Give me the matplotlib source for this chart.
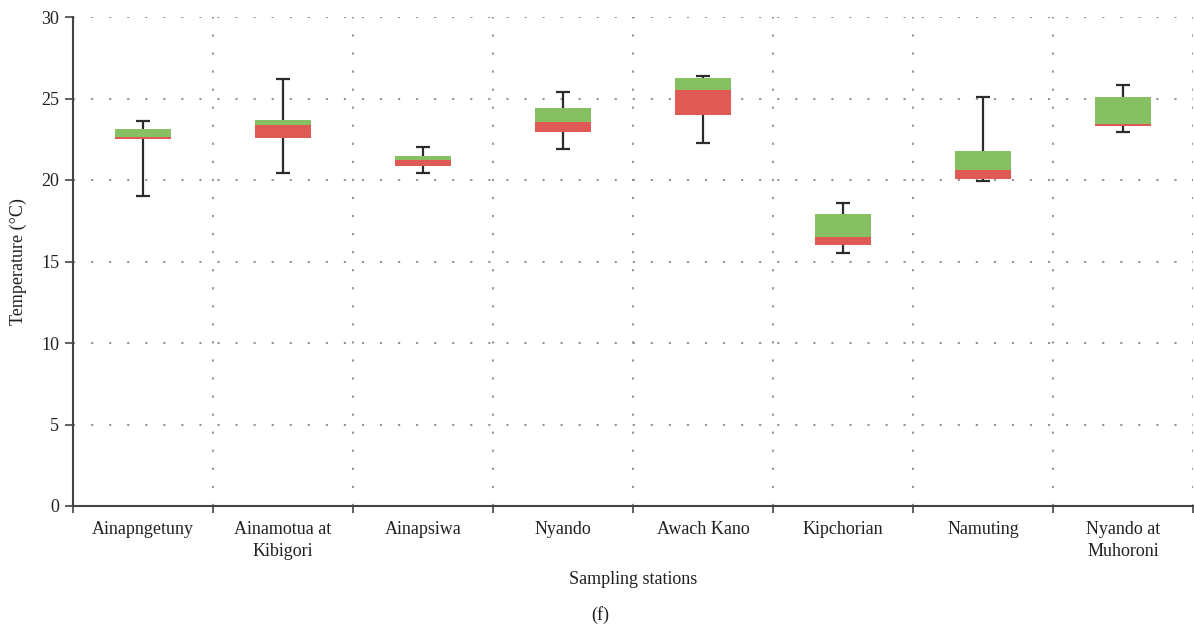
import numpy as np
import matplotlib.pyplot as plt
from matplotlib.ticker import FixedLocator

plt.rcParams['font.family'] = ['Liberation Serif', 'DejaVu Serif']

stations = ['Ainapngetuny', 'Ainamotua at\nKibigori', 'Ainapsiwa', 'Nyando',
            'Awach Kano', 'Kipchorian', 'Namuting', 'Nyando at\nMuhoroni']
t_min = [19.0, 20.45, 20.4, 21.9, 22.25, 15.5, 19.95, 22.95]
t_q1 = [22.52, 22.6, 20.88, 22.97, 24.0, 16.03, 20.08, 23.33]
t_med = [22.64, 23.37, 21.23, 23.56, 25.52, 16.5, 20.61, 23.44]
t_q3 = [23.13, 23.68, 21.47, 24.42, 26.26, 17.91, 21.78, 25.09]
t_max = [23.65, 26.2, 22.0, 25.42, 26.4, 18.6, 25.1, 25.85]

red = '#df5a55'
green = '#86c062'
fs = 13
tc = '#231f20'

fig = plt.figure(figsize=(11.94, 6.31), dpi=100)
ax = fig.add_axes([73/1194, 1-506/631, 1120/1194, 489/631])

x = np.arange(len(stations)) + 0.5
lo = np.array(t_q1)
med = np.array(t_med)
hi = np.array(t_q3)

# whiskers
ax.vlines(x, t_min, t_q1, color='#2b2b2b', lw=1.6, zorder=2)
ax.vlines(x, t_q3, t_max, color='#2b2b2b', lw=1.6, zorder=2)
ax.hlines(t_min, x - 0.05, x + 0.05, color='#2b2b2b', lw=1.6, zorder=2)
ax.hlines(t_max, x - 0.05, x + 0.05, color='#2b2b2b', lw=1.6, zorder=2)

ax.bar(x, med - lo, bottom=lo, width=0.4, color=red, zorder=3)
ax.bar(x, hi - med, bottom=med, width=0.4, color=green, zorder=3)

ax.set_xlim(0, len(stations))
ax.set_ylim(0, 30)
ax.set_yticks(range(0, 31, 5))
ax.xaxis.set_major_locator(FixedLocator(range(0, len(stations) + 1)))
ax.xaxis.set_major_formatter(plt.NullFormatter())
ax.xaxis.set_minor_locator(FixedLocator(x))
ax.set_xticklabels(stations, minor=True, fontsize=fs, linespacing=1.35, color=tc)
ax.tick_params(axis='x', which='minor', length=0, pad=11)
ax.tick_params(axis='x', which='major', length=5, width=1.2, color='#444444')
ax.tick_params(axis='y', length=6, width=1.2, color='#444444', labelsize=fs,
               labelcolor=tc, pad=4)

ax.grid(True, which='major', linestyle=(0, (1.2, 8.8)), color='#8a8a8a', lw=1.3)
ax.set_axisbelow(True)
for s in ['top', 'right']:
    ax.spines[s].set_visible(False)
for s in ['left', 'bottom']:
    ax.spines[s].set_color('#444444')
    ax.spines[s].set_linewidth(1.5)

ax.set_ylabel('Temperature (°C)', fontsize=fs, labelpad=10, color=tc)
ax.set_xlabel('Sampling stations', fontsize=fs, labelpad=8, color=tc)
fig.text(600/1194, 1-615/631, '(f)', ha='center', va='center', fontsize=fs, color=tc)

fig.savefig('out.png', dpi=100)
